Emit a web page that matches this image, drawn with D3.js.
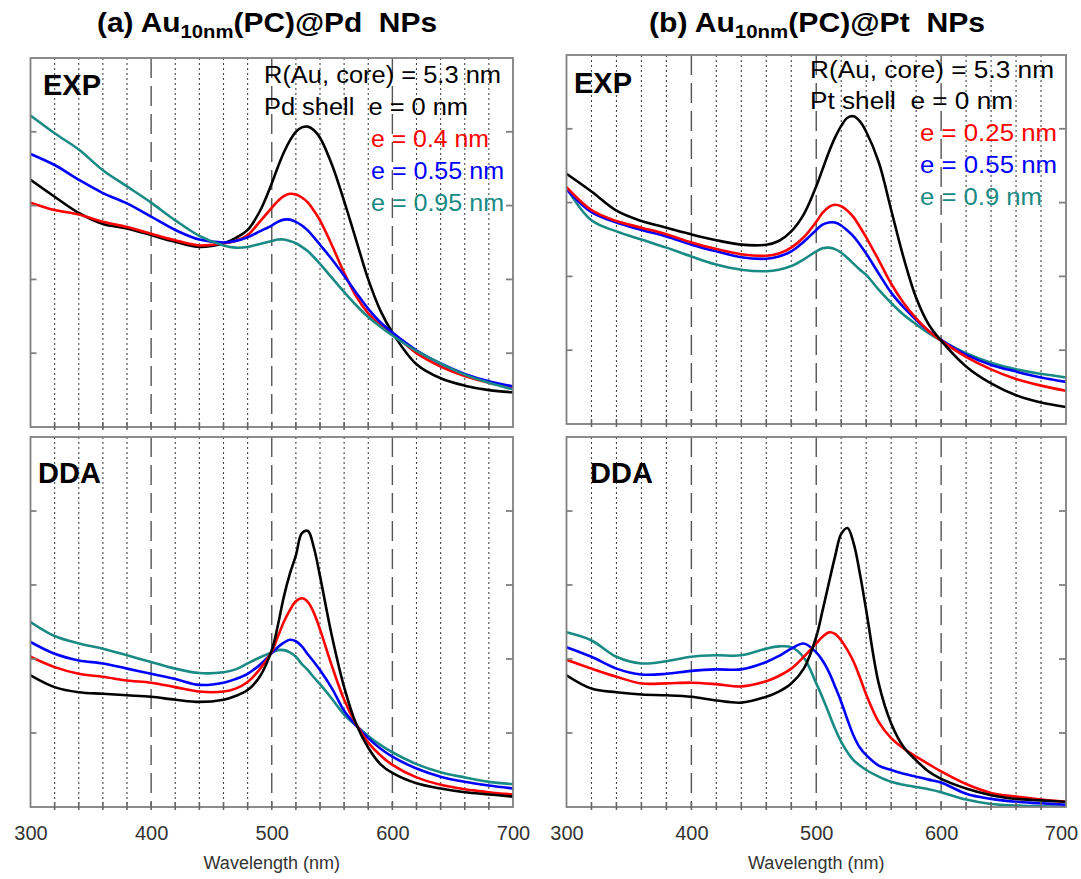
<!DOCTYPE html>
<html><head><meta charset="utf-8">
<script src="https://cdn.jsdelivr.net/npm/d3@7"></script>
<style>
body{margin:0;background:#fff;}
svg{display:block;}
text{font-family:"Liberation Sans",Arial,sans-serif;white-space:pre;}
</style>
</head><body>
<svg id="c" width="1081" height="879"></svg>
<script>
// ---------------- data ----------------
const wavelengths = [300,320,340,360,380,400,420,440,460,470,480,490,500,505,510,515,520,525,530,535,540,550,560,570,580,590,600,620,640,660,680,700];
const xTicks = [300,400,500,600,700];
const legendPd = ["R(Au, core) = 5.3 nm","Pd shell  e = 0 nm","e = 0.4 nm","e = 0.55 nm","e = 0.95 nm"];
const legendPt = ["R(Au, core) = 5.3 nm","Pt shell  e = 0 nm","e = 0.25 nm","e = 0.55 nm","e = 0.9 nm"];
const seriesColors = ["#000000","#ff0000","#0000ff","#1a8a84"];

// (a) Pd, experimental
const expPd0   = [3.35,3.12,2.90,2.75,2.69,2.60,2.51,2.44,2.49,2.56,2.67,2.92,3.30,3.52,3.72,3.88,4.00,4.06,4.07,4.02,3.92,3.55,3.06,2.53,2.00,1.58,1.28,0.85,0.66,0.56,0.50,0.47];
const expPd04  = [3.04,2.94,2.88,2.78,2.71,2.62,2.53,2.46,2.49,2.52,2.60,2.78,2.97,3.06,3.13,3.16,3.15,3.11,3.04,2.93,2.80,2.46,2.09,1.77,1.54,1.38,1.27,1.00,0.82,0.69,0.60,0.54];
const expPd055 = [3.70,3.55,3.35,3.17,3.03,2.85,2.67,2.54,2.50,2.52,2.57,2.65,2.73,2.78,2.81,2.81,2.78,2.73,2.66,2.57,2.47,2.27,2.05,1.82,1.60,1.42,1.28,1.04,0.86,0.72,0.62,0.55];
const expPd095 = [4.22,3.98,3.76,3.48,3.26,3.04,2.80,2.59,2.46,2.43,2.44,2.48,2.52,2.54,2.54,2.52,2.49,2.44,2.38,2.30,2.21,2.02,1.83,1.65,1.49,1.36,1.24,1.03,0.86,0.71,0.60,0.51];
// (b) Pt, experimental
const expPt0   = [3.39,3.15,2.89,2.75,2.66,2.57,2.49,2.43,2.43,2.48,2.61,2.84,3.22,3.45,3.68,3.88,4.04,4.15,4.17,4.10,3.96,3.55,2.90,2.25,1.71,1.35,1.13,0.78,0.55,0.39,0.29,0.23];
const expPt025 = [3.21,2.90,2.75,2.66,2.57,2.46,2.37,2.30,2.28,2.31,2.39,2.53,2.74,2.86,2.94,2.97,2.95,2.89,2.80,2.67,2.53,2.22,1.90,1.64,1.43,1.26,1.13,0.91,0.74,0.61,0.52,0.45];
const expPt055 = [3.18,2.87,2.73,2.63,2.54,2.43,2.34,2.26,2.24,2.27,2.34,2.47,2.63,2.70,2.73,2.73,2.69,2.62,2.54,2.43,2.31,2.04,1.78,1.58,1.41,1.26,1.14,0.94,0.80,0.71,0.63,0.57];
const expPt09  = [3.20,2.76,2.61,2.50,2.39,2.27,2.16,2.09,2.07,2.09,2.14,2.23,2.34,2.38,2.39,2.37,2.32,2.25,2.17,2.09,2.02,1.82,1.64,1.48,1.35,1.23,1.13,0.96,0.83,0.74,0.68,0.63];
// (a) Pd, DDA
const ddaPd0   = [1.78,1.62,1.55,1.53,1.51,1.49,1.45,1.42,1.45,1.50,1.58,1.76,2.12,2.45,2.84,3.15,3.40,3.70,3.73,3.50,3.12,2.30,1.62,1.12,0.80,0.58,0.46,0.32,0.25,0.20,0.17,0.14];
const ddaPd04  = [2.03,1.89,1.80,1.76,1.71,1.68,1.62,1.56,1.56,1.60,1.69,1.86,2.10,2.30,2.50,2.66,2.78,2.82,2.77,2.62,2.40,1.90,1.45,1.12,0.87,0.70,0.57,0.40,0.30,0.24,0.20,0.17];
const ddaPd055 = [2.23,2.07,1.98,1.94,1.87,1.80,1.73,1.65,1.68,1.73,1.80,1.92,2.08,2.16,2.22,2.26,2.24,2.17,2.06,1.96,1.85,1.60,1.30,1.10,0.93,0.79,0.68,0.52,0.41,0.34,0.29,0.25];
const ddaPd095 = [2.50,2.31,2.21,2.14,2.05,1.96,1.87,1.81,1.82,1.86,1.94,2.02,2.09,2.12,2.12,2.09,2.03,1.93,1.85,1.75,1.66,1.46,1.25,1.10,0.96,0.84,0.74,0.58,0.47,0.40,0.34,0.31];
// (b) Pt, DDA
const ddaPt0   = [1.78,1.60,1.55,1.52,1.51,1.49,1.44,1.41,1.49,1.56,1.67,1.87,2.30,2.65,3.02,3.38,3.69,3.77,3.56,3.15,2.66,1.67,1.13,0.81,0.63,0.48,0.38,0.25,0.16,0.11,0.09,0.07];
const ddaPt025 = [1.99,1.87,1.76,1.67,1.67,1.68,1.66,1.63,1.70,1.77,1.87,2.03,2.21,2.30,2.36,2.34,2.25,2.12,1.96,1.75,1.52,1.15,0.93,0.79,0.68,0.58,0.48,0.31,0.19,0.14,0.10,0.07];
const ddaPt055 = [2.16,2.03,1.87,1.79,1.80,1.84,1.86,1.86,1.96,2.04,2.14,2.21,2.09,1.98,1.83,1.63,1.42,1.18,0.96,0.80,0.70,0.56,0.50,0.45,0.41,0.37,0.33,0.18,0.11,0.07,0.05,0.03];
const ddaPt09  = [2.36,2.25,2.03,1.94,1.97,2.03,2.05,2.05,2.14,2.17,2.16,2.02,1.67,1.48,1.27,1.06,0.88,0.74,0.63,0.56,0.50,0.41,0.34,0.30,0.27,0.24,0.20,0.10,0.04,0.02,0.01,0.00];

// ---------------- layout ----------------
const svg = d3.select("#c");
const panels = [
  {x0:30.5, x1:513, y0:58, y1:427, label:"EXP", lx:43, ly:95, series:[expPd0,expPd04,expPd055,expPd095], order:[0,1,2,3],
   legend:legendPd, legX:264, legX2:371, legY:[83,115,147,179,211], legW:[237,204,118,133,133], axis:false},
  {x0:566.5, x1:1066, y0:55, y1:424, label:"EXP", lx:574, ly:93, series:[expPt0,expPt025,expPt055,expPt09], order:[3,2,1,0],
   legend:legendPt, legX:810, legX2:920, legY:[78,109,141,173,205], legW:[244,203,137,137,122], axis:false},
  {x0:30.5, x1:513, y0:437, y1:807, label:"DDA", lx:38, ly:483, series:[ddaPd0,ddaPd04,ddaPd055,ddaPd095], order:[3,2,1,0], axis:true},
  {x0:566.5, x1:1066, y0:437, y1:807, label:"DDA", lx:590, ly:483, series:[ddaPt0,ddaPt025,ddaPt055,ddaPt09], order:[3,2,1,0], axis:true}
];

panels.forEach((p,i)=>{
  const x = d3.scaleLinear().domain([300,700]).range([p.x0,p.x1]);
  const y = d3.scaleLinear().domain([0,5]).range([p.y1,p.y0]);
  const g = svg.append("g");
  d3.range(320,700,20).forEach(w=>{
    const major = (w%100===0);
    g.append("line").attr("x1",x(w)).attr("x2",x(w)).attr("y1",p.y0).attr("y2",p.y1)
      .attr("stroke", major?"#555":"#444").attr("stroke-width", major?1.4:1.1)
      .attr("stroke-dasharray", major?"20,8":"2,3");
  });
  const cid = "clip"+i;
  svg.append("clipPath").attr("id",cid).append("rect").attr("x",p.x0).attr("y",p.y0).attr("width",p.x1-p.x0).attr("height",p.y1-p.y0);
  const line = d3.line().x((d,j)=>x(wavelengths[j])).y(d=>y(d)).curve(d3.curveCatmullRom.alpha(0.5));
  p.order.forEach(k=>{
    g.append("path").attr("d", line(p.series[k])).attr("fill","none")
      .attr("stroke", seriesColors[k]).attr("stroke-width",2.6).attr("stroke-linejoin","round")
      .attr("clip-path",`url(#${cid})`);
  });
  g.append("rect").attr("x",p.x0).attr("y",p.y0).attr("width",p.x1-p.x0).attr("height",p.y1-p.y0)
    .attr("fill","none").attr("stroke","#808080").attr("stroke-width",1.8);
  [1,2,3,4].forEach(v=>{
    g.append("line").attr("x1",p.x0).attr("x2",p.x0+6).attr("y1",y(v)).attr("y2",y(v)).attr("stroke","#808080").attr("stroke-width",1.8);
    g.append("line").attr("x1",p.x1-7).attr("x2",p.x1).attr("y1",y(v)).attr("y2",y(v)).attr("stroke","#808080").attr("stroke-width",1.8);
  });
  d3.range(320,700,20).forEach(w=>{
    g.append("line").attr("x1",x(w)).attr("x2",x(w)).attr("y1",p.y1-5).attr("y2",p.y1+3).attr("stroke","#666").attr("stroke-width",1.6);
  });
  g.append("text").attr("x",p.lx).attr("y",p.ly).attr("font-size",29).attr("font-weight","bold").attr("fill","#000").text(p.label);
  if(p.legend){
    p.legend.forEach((t,k)=>{
      const col = k<2 ? "#000" : seriesColors[k-1];
      g.append("text").attr("x", k<2 ? p.legX : p.legX2).attr("y",p.legY[k]).attr("font-size",23.5).attr("fill",col)
        .attr("textLength",p.legW[k]).attr("lengthAdjust","spacingAndGlyphs").text(t);
    });
  }
  if(p.axis){
    const ax = d3.axisBottom(x).tickValues(xTicks).tickSize(0).tickPadding(0).tickFormat(d3.format("d"));
    const ag = svg.append("g").attr("transform",`translate(0,${p.y1+33})`).call(ax);
    ag.select(".domain").remove();
    ag.selectAll("text").attr("font-size",20).attr("fill","#333").attr("dy",0).attr("font-family","Liberation Sans, Arial, sans-serif")
      .attr("dx", d => (d===700 && p.x1>1060) ? -5 : 0);
    svg.append("text").attr("x",(p.x0+p.x1)/2).attr("y",869).attr("text-anchor","middle").attr("font-size",18).attr("fill","#333").text("Wavelength (nm)");
  }
});

// titles
function title(cx, len, letter, metal){
  const t = svg.append("text").attr("x",cx).attr("y",32).attr("text-anchor","middle").attr("font-size",28).attr("font-weight","bold").attr("fill","#000")
    .attr("textLength",len).attr("lengthAdjust","spacingAndGlyphs");
  t.append("tspan").text(`(${letter}) Au`);
  t.append("tspan").attr("font-size",19).attr("dy",6).text("10nm");
  t.append("tspan").attr("dy",-6).text(`(PC)@${metal}  NPs`);
}
title(267,340,"a","Pd");
title(817,336,"b","Pt");
</script>
</body></html>
